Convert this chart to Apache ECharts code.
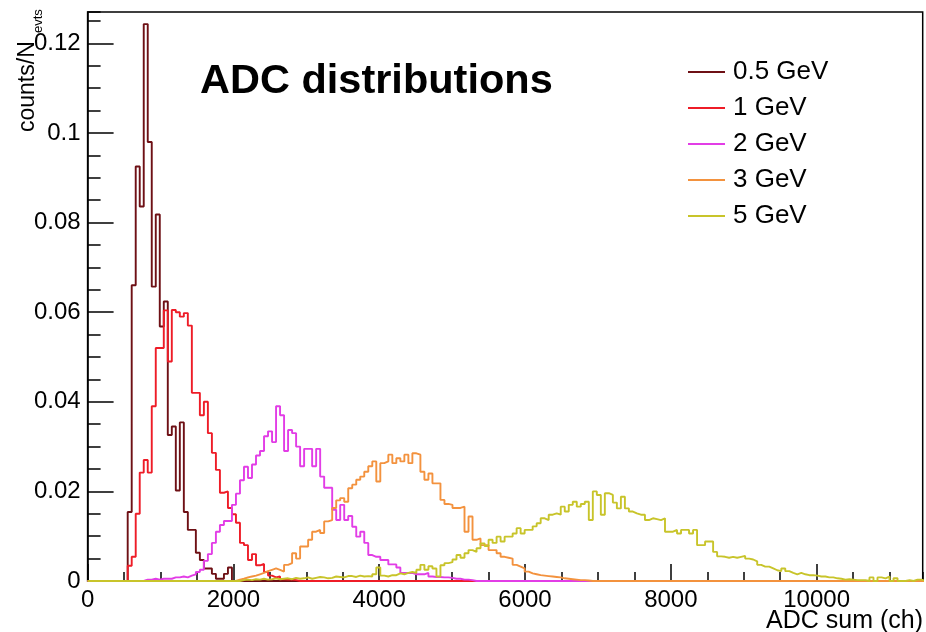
<!DOCTYPE html>
<html>
<head>
<meta charset="utf-8">
<script src="https://cdn.jsdelivr.net/npm/echarts@6/dist/echarts.min.js"></script>
<style>
html,body{margin:0;padding:0;background:#fff;}
#chart{width:926px;height:632px;}
</style>
</head>
<body>
<div id="chart"></div>
<script>
// ---- data ----
const seriesNames = ['0.5 GeV', '1 GeV', '2 GeV', '3 GeV', '5 GeV'];
const binWidth = 55;          // ADC channels per bin
const xMax = 11455;
const yMax = 0.127;
const xTickLabels = [0, 2000, 4000, 6000, 8000, 10000];
const yTickLabels = [0, 0.02, 0.04, 0.06, 0.08, 0.1, 0.12];

// first bin index of each series, then counts/N per bin
const start05 = 10;
const vals05 = [0.0154, 0.066, 0.0925, 0.0836, 0.1243, 0.098, 0.0657, 0.0818, 0.0568, 0.0624,
  0.0326, 0.0345, 0.0202, 0.0354, 0.0154, 0.0114, 0.0114, 0.0063, 0.0047, 0.0028,
  0.0028, 0.0016, 0.0005, 0.0005, 0.0016, 0.003];

const start1 = 10;
const vals1 = [0.0034, 0.0054, 0.015, 0.0242, 0.027, 0.0242, 0.039, 0.052, 0.052, 0.0604,
  0.049, 0.0605, 0.060, 0.059, 0.0598, 0.057, 0.042, 0.042, 0.037, 0.040,
  0.033, 0.0286, 0.0248, 0.0197, 0.020, 0.0163, 0.0149, 0.013, 0.0085, 0.008,
  0.0047, 0.006, 0.0035, 0.0038, 0.002, 0.0012, 0.0008, 0.001, 0.0004, 0.0003,
  0.0003, 0.0002];

const start2 = 14;
const vals2 = [0.0003, 0.0003, 0.0005, 0.0003, 0.0005, 0.0005, 0.0005,
  0.0008, 0.0008, 0.001, 0.0008, 0.0012, 0.0015, 0.002, 0.0025,
  0.0045, 0.006, 0.0085, 0.011, 0.0125, 0.0134, 0.0134, 0.017, 0.0195, 0.0225,
  0.0255, 0.023, 0.026, 0.028, 0.029, 0.0323, 0.0334, 0.031, 0.039, 0.037,
  0.029, 0.0337, 0.033, 0.030, 0.0256, 0.0295, 0.0295, 0.0256, 0.0295, 0.0233,
  0.0208, 0.0208, 0.0159, 0.0136, 0.017, 0.0136, 0.0145, 0.0121, 0.0099, 0.011,
  0.0085, 0.0058, 0.0054, 0.0054, 0.0047, 0.0047, 0.0037, 0.0037, 0.003, 0.0018,
  0.0018, 0.0018, 0.0015, 0.0015, 0.0015, 0.0018, 0.001, 0.0009, 0.0009, 0.0008,
  0.0008, 0.0007, 0.0005, 0.0005, 0.0003, 0.0003, 0.0002];

const start3 = 37;
const vals3 = [0.0003, 0.0005, 0.0008, 0.001, 0.0012, 0.0015, 0.0018, 0.0022, 0.0025, 0.0028,
  0.0025, 0.0021, 0.0036, 0.004, 0.0062, 0.005, 0.0077, 0.0077, 0.0092, 0.011,
  0.0114, 0.0107, 0.0133, 0.0136, 0.0163, 0.018, 0.0185, 0.0177, 0.0207, 0.0215,
  0.0226, 0.0233, 0.0244, 0.0256, 0.0267, 0.0222, 0.0263, 0.0267, 0.0282, 0.0263,
  0.0274, 0.0267, 0.0282, 0.0263, 0.0285, 0.0282, 0.0244, 0.0226, 0.024, 0.0218,
  0.0218, 0.0181, 0.0172, 0.017, 0.0163, 0.0163, 0.0166, 0.011, 0.0144, 0.0092,
  0.0095, 0.008, 0.008, 0.0069, 0.0069, 0.0062, 0.0054, 0.0052, 0.005, 0.0036,
  0.0032, 0.0028, 0.0021, 0.0017, 0.0015, 0.0013, 0.0012, 0.0011, 0.001, 0.0009,
  0.0008, 0.0006, 0.0005, 0.0004, 0.0003, 0.0002, 0.0002, 0.0001];

const start5 = 38;
const vals5 = [0.0002, 0.0003, 0.0002, 0.0004, 0.0003, 0.0005, 0.0003, 0.0004, 0.0006, 0.0004,
  0.0005, 0.0006, 0.0004, 0.0007, 0.0005, 0.0006, 0.0008, 0.0005, 0.0007, 0.0009,
  0.0008, 0.0006, 0.0007, 0.001, 0.0009, 0.0008, 0.0011, 0.0011, 0.0009, 0.0012,
  0.001, 0.0011, 0.001, 0.0015, 0.003, 0.0012, 0.001, 0.0013, 0.0013, 0.0017,
  0.0015, 0.0018, 0.002, 0.0018, 0.0025, 0.0036, 0.0025, 0.0033, 0.0028, 0.001,
  0.0035, 0.004, 0.0042, 0.0048, 0.0058, 0.0052, 0.0062, 0.0069, 0.0065, 0.0073,
  0.0084, 0.0078, 0.0092, 0.0085, 0.0099, 0.0088, 0.0099, 0.0099, 0.0106, 0.0118,
  0.0106, 0.0114, 0.0114, 0.0122, 0.0129, 0.014, 0.0136, 0.0148, 0.0151, 0.0148,
  0.0166, 0.0155, 0.017, 0.0177, 0.0166, 0.0172, 0.0177, 0.0136, 0.020, 0.0192,
  0.0148, 0.0196, 0.0192, 0.0175, 0.0162, 0.0188, 0.0162, 0.0155, 0.0151, 0.0148,
  0.0148, 0.0136, 0.014, 0.0138, 0.0136, 0.014, 0.011, 0.011, 0.0114, 0.0106,
  0.0114, 0.0114, 0.0106, 0.0114, 0.008, 0.008, 0.0088, 0.0088, 0.0065, 0.0055,
  0.0054, 0.0052, 0.0054, 0.0052, 0.0054, 0.0056, 0.005, 0.0048, 0.0044, 0.0036,
  0.0032, 0.0032, 0.0028, 0.0024, 0.0022, 0.0028, 0.0022, 0.0018, 0.0015, 0.0018,
  0.0015, 0.0013, 0.0013, 0.0012, 0.001, 0.001, 0.0008, 0.0008, 0.0006, 0.0005,
  0.0003, 0.0004, 0.0003, 0.0002, 0.0002, 0.0002, 0, 0.0008, 0, 0.0008,
  0.0006, 0.001, 0, 0.0006, 0, 0, 0.0002, 0, 0.0003, 0.0003];

const seriesColors = ['#6e1015', '#ee1c27', '#e23de6', '#f3923e', '#c8c42a'];

// ---- build histogram outlines ----
const nBins = Math.ceil(xMax / binWidth);
function hist(start, vals) {
  const out = [];
  for (let k = 0; k < nBins; k++) {
    const v = (k >= start && k < start + vals.length) ? vals[k - start] : 0;
    out.push([k * binWidth, v]);
  }
  out.push([nBins * binWidth, 0]);
  return out;
}
const allData = [hist(start05, vals05), hist(start1, vals1), hist(start2, vals2), hist(start3, vals3), hist(start5, vals5)];

const FONT = '"Liberation Sans", Arial, Helvetica, sans-serif';
const chart = echarts.init(document.getElementById('chart'), null, {renderer: 'canvas'});

const option = {
  animation: false,
  backgroundColor: '#fff',
  grid: {left: 87.6, top: 12, right: 3.3, bottom: 51, show: true, borderColor: '#000', borderWidth: 1.5, backgroundColor: 'transparent'},
  legend: {
    orient: 'vertical', left: 683, top: 54,
    itemWidth: 37, itemHeight: 2, icon: 'rect', itemGap: 10,
    textStyle: {fontFamily: FONT, fontSize: 26, color: '#000', lineHeight: 24, padding: [0, 0, 0, 3]},
    data: seriesNames
  },
  xAxis: [
    {
      type: 'value', min: 0, max: xMax, interval: 500, position: 'bottom',
      axisLine: {show: true, onZero: false, lineStyle: {color: '#000', width: 1.5}},
      axisTick: {show: true, inside: true, length: 9, lineStyle: {color: '#000', width: 1.5}},
      axisLabel: {show: false}, splitLine: {show: false}
    },
    {
      type: 'value', min: 0, max: xMax, interval: 2000, position: 'bottom',
      axisLine: {show: false, onZero: false},
      axisTick: {show: true, inside: true, length: 17, lineStyle: {color: '#000', width: 1.5}},
      axisLabel: {show: true, showMaxLabel: false, margin: 7, color: '#000', fontFamily: FONT, fontSize: 24,
        formatter: v => (xTickLabels.indexOf(v) >= 0 ? String(v) : '')},
      splitLine: {show: false}
    }
  ],
  yAxis: [
    {
      type: 'value', min: 0, max: yMax, interval: 0.005, position: 'left',
      axisLine: {show: true, onZero: false, lineStyle: {color: '#000', width: 1.5}},
      axisTick: {show: true, inside: true, length: 13, lineStyle: {color: '#000', width: 1.5}},
      axisLabel: {show: false}, splitLine: {show: false}
    },
    {
      type: 'value', min: 0, max: yMax, interval: 0.02, position: 'left',
      axisLine: {show: false, onZero: false},
      axisTick: {show: true, inside: true, length: 26, lineStyle: {color: '#000', width: 1.5}},
      axisLabel: {show: true, showMaxLabel: false, margin: 7, color: '#000', fontFamily: FONT, fontSize: 24,
        formatter: v => {
          const r = +v.toFixed(4);
          return yTickLabels.indexOf(r) >= 0 ? String(r) : '';
        }},
      splitLine: {show: false}
    }
  ],
  graphic: [
    {type: 'text', x: 200, y: 82, style: {text: 'ADC distributions', font: 'bold 41.5px ' + FONT, fill: '#000', align: 'left', verticalAlign: 'middle'}},
    {type: 'text', x: 923, y: 621, style: {text: 'ADC sum (ch)', font: '25px ' + FONT, fill: '#000', align: 'right', verticalAlign: 'middle'}},
    {type: 'text', x: 28, y: 132, rotation: Math.PI / 2, style: {text: 'counts/N', font: '23px ' + FONT, fill: '#000', align: 'left', verticalAlign: 'middle'}},
    {type: 'text', x: 38.5, y: 33, rotation: Math.PI / 2, style: {text: 'evts', font: '13px ' + FONT, fill: '#000', align: 'left', verticalAlign: 'middle'}}
  ],
  series: seriesNames.map((name, i) => ({
    name: name,
    type: 'line',
    xAxisIndex: 0, yAxisIndex: 0,
    step: 'end',
    showSymbol: false,
    symbol: 'none',
    clip: true,
    color: seriesColors[i],
    lineStyle: {color: seriesColors[i], width: 1.9},
    data: allData[i]
  }))
};
chart.setOption(option);
</script>
</body>
</html>
